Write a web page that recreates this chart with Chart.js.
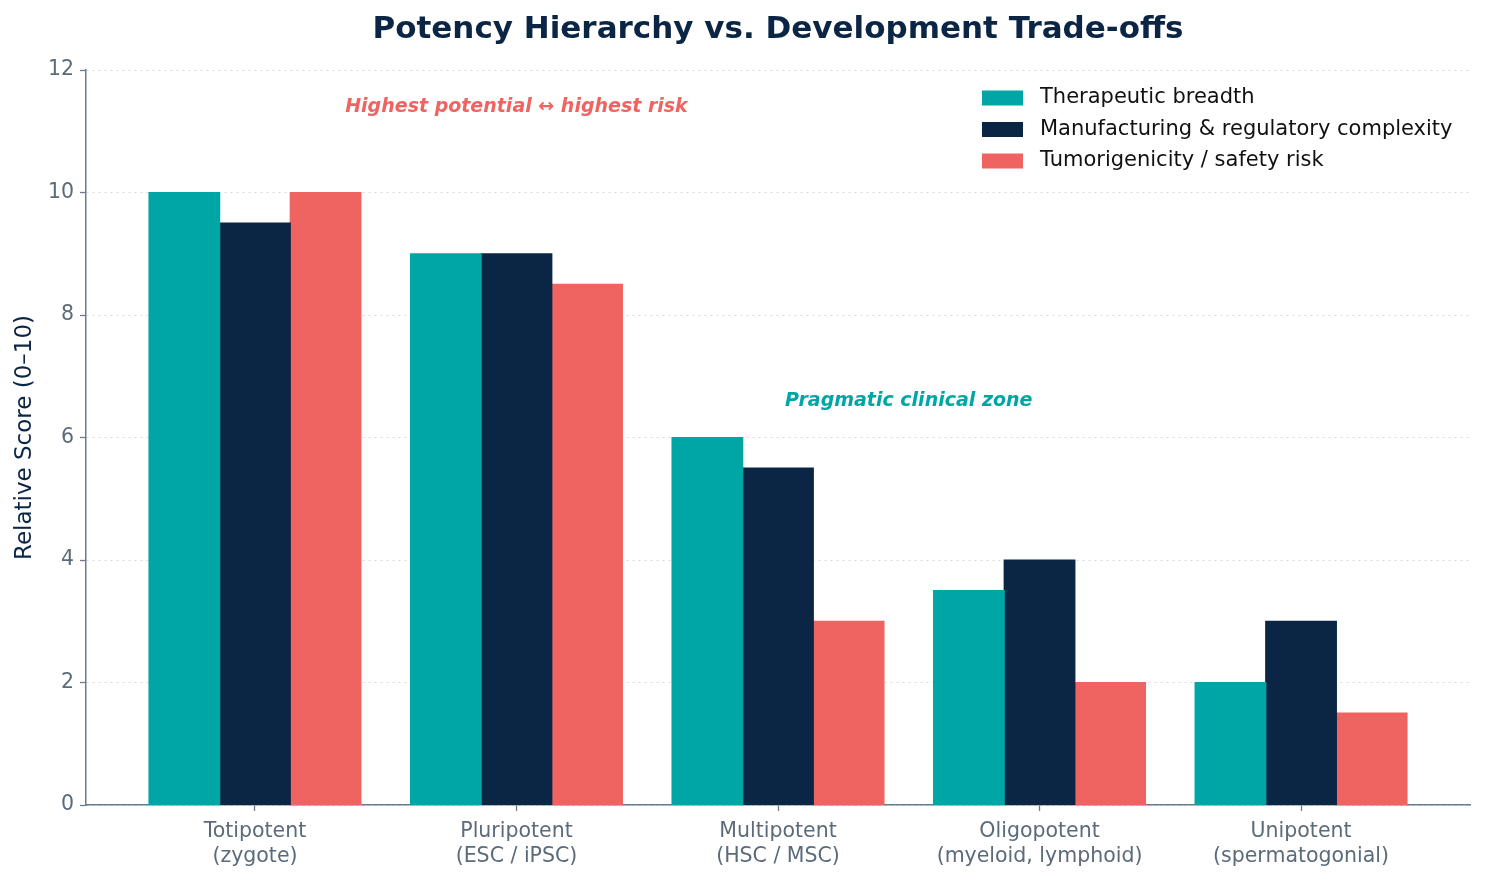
<!DOCTYPE html>
<html>
<head>
<meta charset="utf-8">
<script src="https://cdn.jsdelivr.net/npm/chart.js@4.4.1/dist/chart.umd.min.js"></script>
<style>
  html, body { margin: 0; padding: 0; background: #fff; }
</style>
</head>
<body>
<canvas id="grafico" width="1485" height="885"></canvas>
<script>
// dados
const categorias = [
  ['Totipotent', '(zygote)'],
  ['Pluripotent', '(ESC / iPSC)'],
  ['Multipotent', '(HSC / MSC)'],
  ['Oligopotent', '(myeloid, lymphoid)'],
  ['Unipotent', '(spermatogonial)']
];
const amplitude = [10, 9, 6, 3.5, 2];
const complexidade = [9.5, 9, 5.5, 4, 3];
const risco = [10, 8.5, 3, 2, 1.5];
const yTicks = [0, 2, 4, 6, 8, 10, 12];

const titulo = 'Potency Hierarchy vs. Development Trade-offs';
const notas = [
  { x: 1, y: 11.4, texto: 'Highest potential \u2194 highest risk', cor: '#EF6461' },
  { x: 2.5, y: 6.6, texto: 'Pragmatic clinical zone', cor: '#00A6A6' }
];

const FONTE = '"DejaVu Sans", "Liberation Sans", sans-serif';
const EIXO = '#6B7B8C';
const TEXTO_TICK = '#5C6B7A';
const NAVY = '#0B2545';

const pontos = arr => arr.map((v, i) => ({ x: i, y: v }));

const extras = {
  id: 'extras',
  afterDraw(chart) {
    const ctx = chart.ctx;
    const area = chart.chartArea;
    const xs = chart.scales.x, ys = chart.scales.y;
    ctx.save();

    // título
    ctx.fillStyle = NAVY;
    ctx.font = 'bold 31px ' + FONTE;
    ctx.textAlign = 'center';
    ctx.textBaseline = 'middle';
    ctx.fillText(titulo, (area.left + area.right) / 2, 30);

    // anotações
    ctx.font = 'italic bold 19px ' + FONTE;
    notas.forEach(n => {
      ctx.fillStyle = n.cor;
      ctx.fillText(n.texto, xs.getPixelForValue(n.x), ys.getPixelForValue(n.y));
    });

    // legenda
    ctx.font = '21px ' + FONTE;
    ctx.textAlign = 'left';
    chart.data.datasets.forEach((ds, i) => {
      const y = 98 + i * 31.5;
      ctx.fillStyle = ds.backgroundColor;
      ctx.fillRect(982, y - 7.5, 41, 15);
      ctx.fillStyle = '#111';
      ctx.fillText(ds.label, 1040, y);
    });
    ctx.restore();
  }
};

new Chart(document.getElementById('grafico'), {
  type: 'bar',
  data: {
    datasets: [
      { label: 'Therapeutic breadth', data: pontos(amplitude), backgroundColor: '#00A6A6' },
      { label: 'Manufacturing & regulatory complexity', data: pontos(complexidade), backgroundColor: NAVY },
      { label: 'Tumorigenicity / safety risk', data: pontos(risco), backgroundColor: '#EF6461' }
    ]
  },
  options: {
    responsive: false,
    devicePixelRatio: 1,
    animation: false,
    categoryPercentage: 0.81,
    barPercentage: 1,
    borderWidth: 0,
    inflateAmount: 0.6,
    layout: { padding: { top: 70, right: 15, left: 0, bottom: 0 } },
    plugins: {
      legend: { display: false },
      title: { display: false },
      tooltip: { enabled: false }
    },
    scales: {
      x: {
        type: 'linear',
        min: -0.646,
        max: 4.646,
        offset: false,
        afterBuildTicks: s => { s.ticks = categorias.map((_, i) => ({ value: i })); },
        afterFit: s => { s.height = 80; },
        grid: { offset: false, drawOnChartArea: false, tickLength: 6, tickColor: EIXO, tickWidth: 1.3 },
        border: { color: EIXO, width: 1.5 },
        ticks: {
          autoSkip: false,
          maxRotation: 0,
          padding: 8,
          color: TEXTO_TICK,
          font: { family: FONTE, size: 20.5, lineHeight: 1.23 },
          callback: v => categorias[v]
        }
      },
      y: {
        min: 0,
        max: 12,
        afterBuildTicks: s => { s.ticks = yTicks.map(v => ({ value: v })); },
        afterFit: s => { s.width = 86; },
        grid: { color: '#D5D9DE', lineWidth: 1, tickLength: 6, tickColor: EIXO, tickWidth: 1.3, tickBorderDash: [] },
        border: { color: EIXO, width: 1.5, dash: [2, 4] },
        ticks: {
          padding: 6,
          color: TEXTO_TICK,
          font: { family: FONTE, size: 20.5 }
        },
        title: {
          display: true,
          text: 'Relative Score (0\u201310)',
          color: NAVY,
          font: { family: FONTE, size: 23 },
          padding: { top: 11, bottom: 0 }
        }
      }
    }
  },
  plugins: [extras]
});
</script>
</body>
</html>
